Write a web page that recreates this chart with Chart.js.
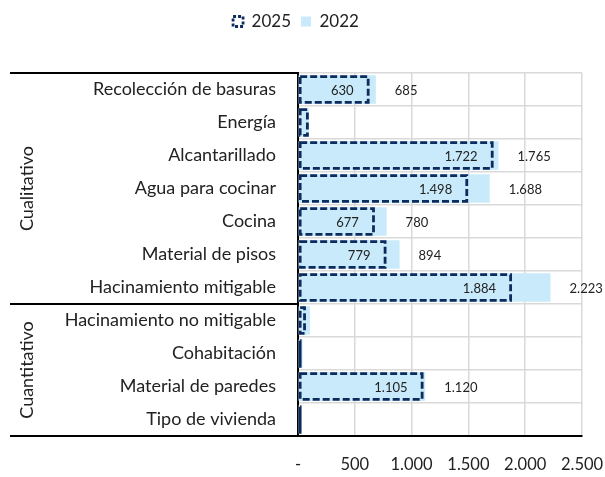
<!DOCTYPE html>
<html>
<head>
<meta charset="utf-8">
<script src="https://cdn.jsdelivr.net/npm/chart.js@4.4.1/dist/chart.umd.min.js"></script>
<style>
  html, body { margin: 0; padding: 0; background: #fff; }
  #wrap { width: 605px; height: 477px; }
</style>
</head>
<body>
<div id="wrap"><canvas id="c" width="605" height="477"></canvas></div>
<script>
const categories = ["Recolección de basuras", "Energía", "Alcantarillado", "Agua para cocinar", "Cocina", "Material de pisos", "Hacinamiento mitigable", "Hacinamiento no mitigable", "Cohabitación", "Material de paredes", "Tipo de vivienda"];
const values2025 = [630, 95, 1722, 1498, 677, 779, 1884, 70, 30, 1105, 10];
const values2022 = [685, 85, 1765, 1688, 780, 894, 2223, 105, 40, 1120, 5];
const seriesNames = ["2025", "2022"];
const groups = [
  { label: "Cualitativo", from: 0, to: 6 },
  { label: "Cuantitativo", from: 7, to: 10 }
];
const xTicks = [0, 500, 1000, 1500, 2000, 2500];

const NAVY = '#0d2c5e';
const LIGHT = '#c8eafa';
const TEXT = '#222222';
const GRID = '#d9d9d9';

function fmt(v) {
  if (v === 0) return '-';
  return String(Math.round(v)).replace(/\B(?=(\d{3})+(?!\d))/g, '.');
}

const overlayPlugin = {
  id: 'overlay',
  afterDatasetsDraw(chart) {
    const ctx = chart.ctx;
    const lw = 2.8;
    const m0 = chart.getDatasetMeta(0);
    ctx.save();
    ctx.strokeStyle = NAVY;
    ctx.lineWidth = lw;
    ctx.setLineDash([7, 3]);
    m0.data.forEach(bar => {
      const p = bar.getProps(['x', 'y', 'base', 'height'], true);
      const w = Math.max(p.x - p.base - lw, 0.01);
      ctx.strokeRect(p.base + lw / 2, p.y - p.height / 2 + lw / 2, w, p.height - lw);
    });
    ctx.restore();
    ctx.save();
    ctx.font = '13px Lato, sans-serif';
    ctx.fillStyle = TEXT;
    ctx.textBaseline = 'middle';
    const m1 = chart.getDatasetMeta(1);
    m0.data.forEach((bar, i) => {
      const v = values2025[i];
      if (v < 300) return;
      const p = bar.getProps(['x', 'y'], true);
      ctx.textAlign = 'right';
      ctx.fillText(fmt(v), p.x - 16, p.y + 1);
    });
    m1.data.forEach((bar, i) => {
      const v = values2022[i];
      if (v < 300) return;
      const p = bar.getProps(['x', 'y'], true);
      ctx.textAlign = 'left';
      ctx.fillText(fmt(v), p.x + 19, p.y + 1);
    });
    ctx.restore();
  },
  afterDraw(chart) {
    const ctx = chart.ctx;
    const area = chart.chartArea;
    const ys = chart.scales.y;
    const x0 = 10;
    const half = (ys.getPixelForValue(1) - ys.getPixelForValue(0)) / 2;
    ctx.save();
    ctx.strokeStyle = '#000';
    ctx.lineWidth = 2;
    ctx.beginPath();
    ctx.moveTo(x0, area.top); ctx.lineTo(area.left, area.top);
    groups.forEach((g, gi) => {
      if (gi > 0) {
        const yb = ys.getPixelForValue(g.from) - half;
        ctx.moveTo(x0, yb); ctx.lineTo(area.left, yb);
      }
    });
    ctx.moveTo(x0, area.bottom); ctx.lineTo(area.left, area.bottom);
    ctx.stroke();
    ctx.font = '18px Lato';
    ctx.fillStyle = TEXT;
    ctx.textAlign = 'center';
    ctx.textBaseline = 'middle';
    groups.forEach(g => {
      const cy = (ys.getPixelForValue(g.from) + ys.getPixelForValue(g.to)) / 2;
      ctx.save();
      ctx.translate(27, cy);
      ctx.rotate(-Math.PI / 2);
      ctx.fillText(g.label, 0, 0);
      ctx.restore();
    });
    ctx.restore();
  }
};

Chart.defaults.font.family = 'Lato';
Chart.defaults.color = TEXT;

new Chart(document.getElementById('c'), {
  type: 'bar',
  data: {
    labels: categories,
    datasets: [
      {
        label: seriesNames[0],
        data: values2025,
        backgroundColor: LIGHT,
        borderWidth: 0,
        grouped: false,
        xAxisID: 'x', yAxisID: 'y',
        categoryPercentage: 1,
        barPercentage: 0.86
      },
      {
        label: seriesNames[1],
        data: values2022,
        backgroundColor: LIGHT,
        borderWidth: 0,
        grouped: false,
        xAxisID: 'x', yAxisID: 'y',
        categoryPercentage: 1,
        barPercentage: 0.86
      }
    ]
  },
  options: {
    indexAxis: 'y',
    responsive: false,
    animation: false,
    layout: { padding: { top: 3, left: 10, right: 23, bottom: 0 } },
    plugins: {
      tooltip: { enabled: false },
      legend: {
        position: 'top',
        align: 'center',
        labels: {
          boxWidth: 10,
          boxHeight: 10,
          padding: 10,
          color: TEXT,
          font: { size: 17, family: 'Lato' },
          generateLabels(chart) {
            const items = Chart.defaults.plugins.legend.labels.generateLabels(chart);
            items[0].fillStyle = '#ffffff';
            items[0].strokeStyle = NAVY;
            items[0].lineWidth = 2.8;
            items[0].lineDash = [3, 2];
            items[1].lineWidth = 0;
            return items;
          }
        }
      }
    },
    scales: {
      x: {
        type: 'linear',
        position: 'bottom',
        min: 0,
        max: 2500,
        afterBuildTicks(s) { s.ticks = xTicks.map(v => ({ value: v })); },
        afterFit(s) { s.height = 41; s.paddingRight = 0; s.paddingLeft = 0; },
        grid: { color: GRID, lineWidth: 1.5, drawTicks: false },
        border: { color: '#000', width: 2 },
        ticks: {
          padding: 19,
          color: TEXT,
          font: { size: 16.5, family: 'Lato' },
          callback: v => fmt(v)
        }
      },
      xTop: {
        type: 'linear',
        position: 'top',
        display: true,
        grid: { display: false, drawTicks: false },
        border: { display: false },
        ticks: { display: false },
        afterFit(s) { s.height = 33; s.paddingRight = 0; s.paddingLeft = 0; }
      },
      y: {
        type: 'category',
        position: 'left',
        offset: true,
        afterFit(s) { s.width = 288; s.paddingTop = 0; s.paddingBottom = 0; },
        grid: { color: GRID, lineWidth: 1.5, drawTicks: false, offset: true },
        border: { color: '#000', width: 2 },
        ticks: {
          padding: 22,
          color: TEXT,
          font: { size: 18, family: 'Lato' }
        }
      }
    }
  },
  plugins: [overlayPlugin]
});
</script>
</body>
</html>
